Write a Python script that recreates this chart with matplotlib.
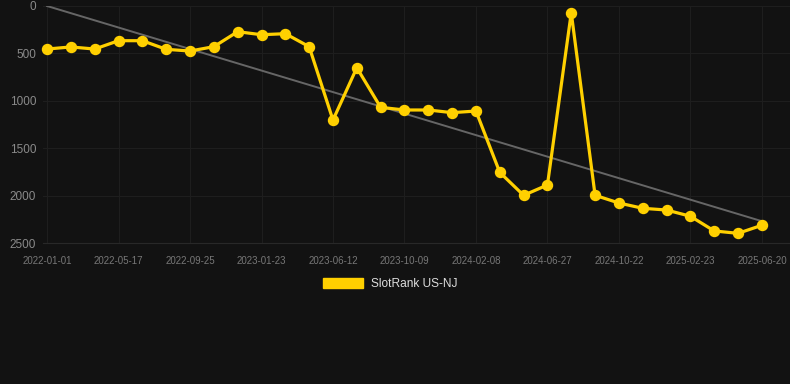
import matplotlib.pyplot as plt
from matplotlib.patches import Patch

# rank values (lower is better, axis inverted)
ranks = [454, 432, 454, 366, 366, 457, 475, 429, 271, 303, 292, 429,
         1203, 651, 1069, 1097, 1097, 1125, 1108, 1755, 1997, 1888, 71,
         1997, 2078, 2134, 2152, 2218, 2373, 2398, 2313]
tick_labels = ["2022-01-01", "2022-05-17", "2022-09-25", "2023-01-23",
               "2023-06-12", "2023-10-09", "2024-02-08", "2024-06-27",
               "2024-10-22", "2025-02-23", "2025-06-20"]
trend_start, trend_end = 0, 2270
series_name = "SlotRank US-NJ"

BG = "#121212"
GOLD = "#FFD000"

plt.rcParams["font.family"] = ["Liberation Sans", "DejaVu Sans"]

fig = plt.figure(figsize=(7.9, 3.84), dpi=100, facecolor=BG)
ax = fig.add_axes([43 / 790, 1 - 243 / 384, 1 - 43 / 790, 237 / 384])
ax.set_facecolor(BG)

x = list(range(len(ranks)))
ax.plot([x[0], x[-1]], [trend_start, trend_end], color="#666666", lw=1.4, zorder=2)
ax.plot(x, ranks, color=GOLD, lw=2.3, marker="o", ms=7.2,
        solid_joinstyle="miter", clip_on=False, zorder=3)

ax.set_ylim(2500, 0)
ax.set_xlim(-0.17, len(ranks) - 1 + 1.18)
ax.set_yticks([0, 500, 1000, 1500, 2000, 2500])
ax.set_xticks(x[::3])
ax.set_xticklabels(tick_labels)

ax.grid(True, color="#1e1e1e", lw=0.8)
ax.set_axisbelow(True)
for side in ["top", "right", "left"]:
    ax.spines[side].set_visible(False)
ax.spines["bottom"].set_color("#282828")

ax.tick_params(axis="y", length=0, pad=5, labelsize=8.5, labelcolor="#8a8a8a")
ax.tick_params(axis="x", length=0, pad=9, labelsize=7, labelcolor="#777777")

handle = Patch(facecolor=GOLD, edgecolor=GOLD)
fig.legend([handle], [series_name], loc="center", bbox_to_anchor=(390 / 790, 1 - 284 / 384),
           frameon=False, fontsize=8.6, labelcolor="#dddddd",
           handlelength=3.4, handleheight=0.95, handletextpad=0.6)

fig.savefig("out.png", dpi=100, facecolor=BG)
